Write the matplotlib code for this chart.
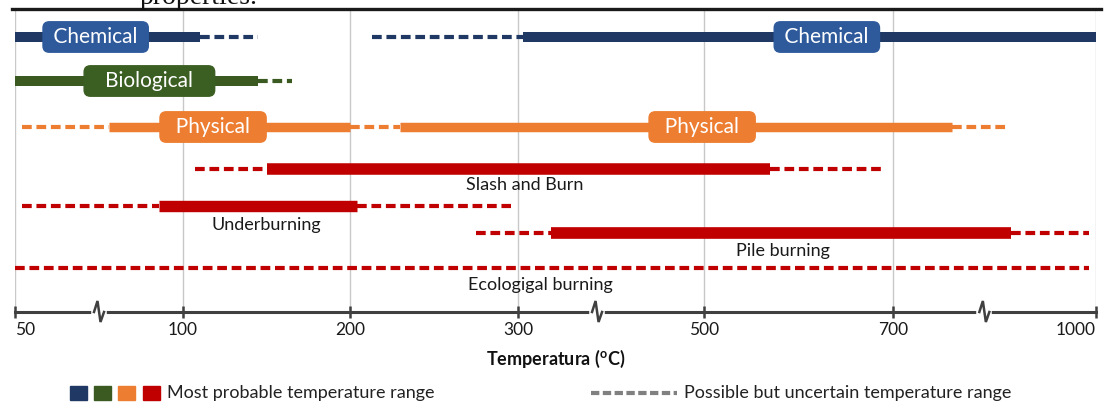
import numpy as np
import matplotlib.pyplot as plt

plt.rcParams['font.family'] = ['Lato', 'DejaVu Sans']
plt.rcParams['lines.scale_dashes'] = False
plt.rcParams['mathtext.fontset'] = 'custom'
plt.rcParams['mathtext.rm'] = 'Lato'
plt.rcParams['mathtext.bf'] = 'Lato:bold'

# broken temperature axis: tick values and their pixel position along the axis
ticks = [50, 100, 200, 300, 500, 700, 1000]
tick_pos = [15, 183, 350, 518, 704, 893, 1096]
axis_breaks = [75, 385, 835]

# most probable (solid) and possible (dashed) temperature ranges, in degC
chem_solid = [(50, 110), (305, 1000)]
chem_dash = [(110, 145), (213, 305)]
bio_solid = [(50, 145)]
bio_dash = [(145, 165)]
phys_solid = [(78, 200), (230, 787)]
phys_dash = [(52, 78), (200, 230), (787, 870)]
slash_solid = [(150, 570)]
slash_dash = [(107, 150), (570, 690)]
under_solid = [(93, 204)]
under_dash = [(52, 93), (204, 296)]
pile_solid = [(335, 875)]
pile_dash = [(275, 335), (875, 990)]
eco_solid = []
eco_dash = [(50, 990)]

# boxed labels on the property rows (text, temperature at centre)
chem_tags = [('Chemical', 74), ('Chemical', 630)]
bio_tags = [('Biological', 90)]
phys_tags = [('Physical', 118), ('Physical', 498)]
# plain labels under the burning rows
burn_names = ['Slash and Burn', 'Underburning', 'Pile burning', 'Ecologigal burning']
burn_name_at = [307, 150, 584, 324]

navy, navy_box = '#1f3864', '#2e5a9c'
green, green_box = '#3a5a22', '#3b5e23'
orange = '#ed7d31'
red = '#c00000'

W, H = 1113, 405
fig = plt.figure(figsize=(W / 100, H / 100), dpi=100)
ax = fig.add_axes([15 / W, (H - 312) / H, (1096 - 15) / W, (312 - 10) / H])


def fwd(t):
    return np.interp(t, ticks, tick_pos)


def inv(p):
    return np.interp(p, tick_pos, ticks)


ax.set_xscale('function', functions=(fwd, inv))
ax.set_xlim(50, 1000)
ax.set_ylim(312, 10)

rows = [
    (chem_solid, chem_dash, navy, 37, 7.2),
    (bio_solid, bio_dash, green, 81, 7.2),
    (phys_solid, phys_dash, orange, 127, 6.8),
    (slash_solid, slash_dash, red, 169, 8.3),
    (under_solid, under_dash, red, 206, 8.2),
    (pile_solid, pile_dash, red, 233, 8.4),
    (eco_solid, eco_dash, red, 268, 8.3),
]
for solid, dashed, c, y, lw in rows:
    for a, b in dashed:
        ax.plot([a, b], [y, y], color=c, lw=3.0, dashes=(7, 3.4),
                dash_capstyle='butt', zorder=3)
    for a, b in solid:
        ax.plot([a, b], [y, y], color=c, lw=lw, solid_capstyle='butt', zorder=4)

# side padding (in spaces) differs a little between the three box styles
for tags, y, box, side in [(chem_tags, 37, navy_box, 1), (bio_tags, 81, green_box, 3),
                           (phys_tags, 127, orange, 2)]:
    for txt, t in tags:
        pad = ' ' * side
        ax.text(t, y, pad + txt + pad, color='white', fontsize=15, ha='center',
                va='center', zorder=6,
                bbox=dict(boxstyle='round,pad=0.25,rounding_size=0.3',
                          fc=box, ec=box, lw=1))

for name, t, y in zip(burn_names, burn_name_at, [185, 225, 251, 285]):
    ax.text(t, y, name, fontsize=13, color='#1a1a1a', ha='center', va='center')

ax.set_xticks(ticks)
ax.set_xticklabels([str(t) for t in ticks])
ax.get_xticklabels()[-1].set_horizontalalignment('right')
ax.get_xticklabels()[0].set_horizontalalignment('left')
ax.grid(axis='x', color='#c8c8c8', lw=1)
ax.set_axisbelow(True)
ax.tick_params(axis='x', direction='inout', length=9, width=1.8, color='#404040',
               labelsize=12.5, labelcolor='#1a1a1a', pad=3)
ax.set_yticks([])
for s in ['left', 'right', 'top']:
    ax.spines[s].set_visible(False)
ax.spines['bottom'].set_color('#404040')
ax.spines['bottom'].set_linewidth(2.2)
ax.set_xlabel(r'Temperatura ($\mathbf{^o}$C)', fontsize=13, fontweight='bold',
              color='#111', labelpad=7)

# overlay in figure pixels for axis breaks, header rule and key
ov = fig.add_axes([0, 0, 1, 1])
ov.set_xlim(0, W)
ov.set_ylim(H, 0)
ov.axis('off')

for c in fwd(axis_breaks):
    ov.plot([c - 5, c + 5], [312, 312], color='white', lw=4, zorder=5)
    ov.plot([c - 5, c - 1.5, c + 1.5, c + 5], [312, 301, 322, 312],
            color='#404040', lw=1.8, zorder=6, solid_joinstyle='miter')

ov.plot([12, 1101], [9, 9], color='#1a1a1a', lw=2.4)
ov.text(140, 4, 'properties.', family=['Liberation Serif', 'DejaVu Serif'],
        fontsize=20, va='baseline', ha='left', color='#111')

for x0, c in zip([70, 94, 118, 143], [navy, green, orange, red]):
    ov.add_patch(plt.Rectangle((x0, 386), 17, 14, color=c))
ov.text(167, 393, 'Most probable temperature range', fontsize=13,
        va='center', ha='left', color='#222')
ov.plot([591, 677], [393, 393], color='#808080', lw=3, dashes=(6, 2.5))
ov.text(684, 393, 'Possible but uncertain temperature range', fontsize=13,
        va='center', ha='left', color='#222')

fig.savefig('out.png', dpi=100)
